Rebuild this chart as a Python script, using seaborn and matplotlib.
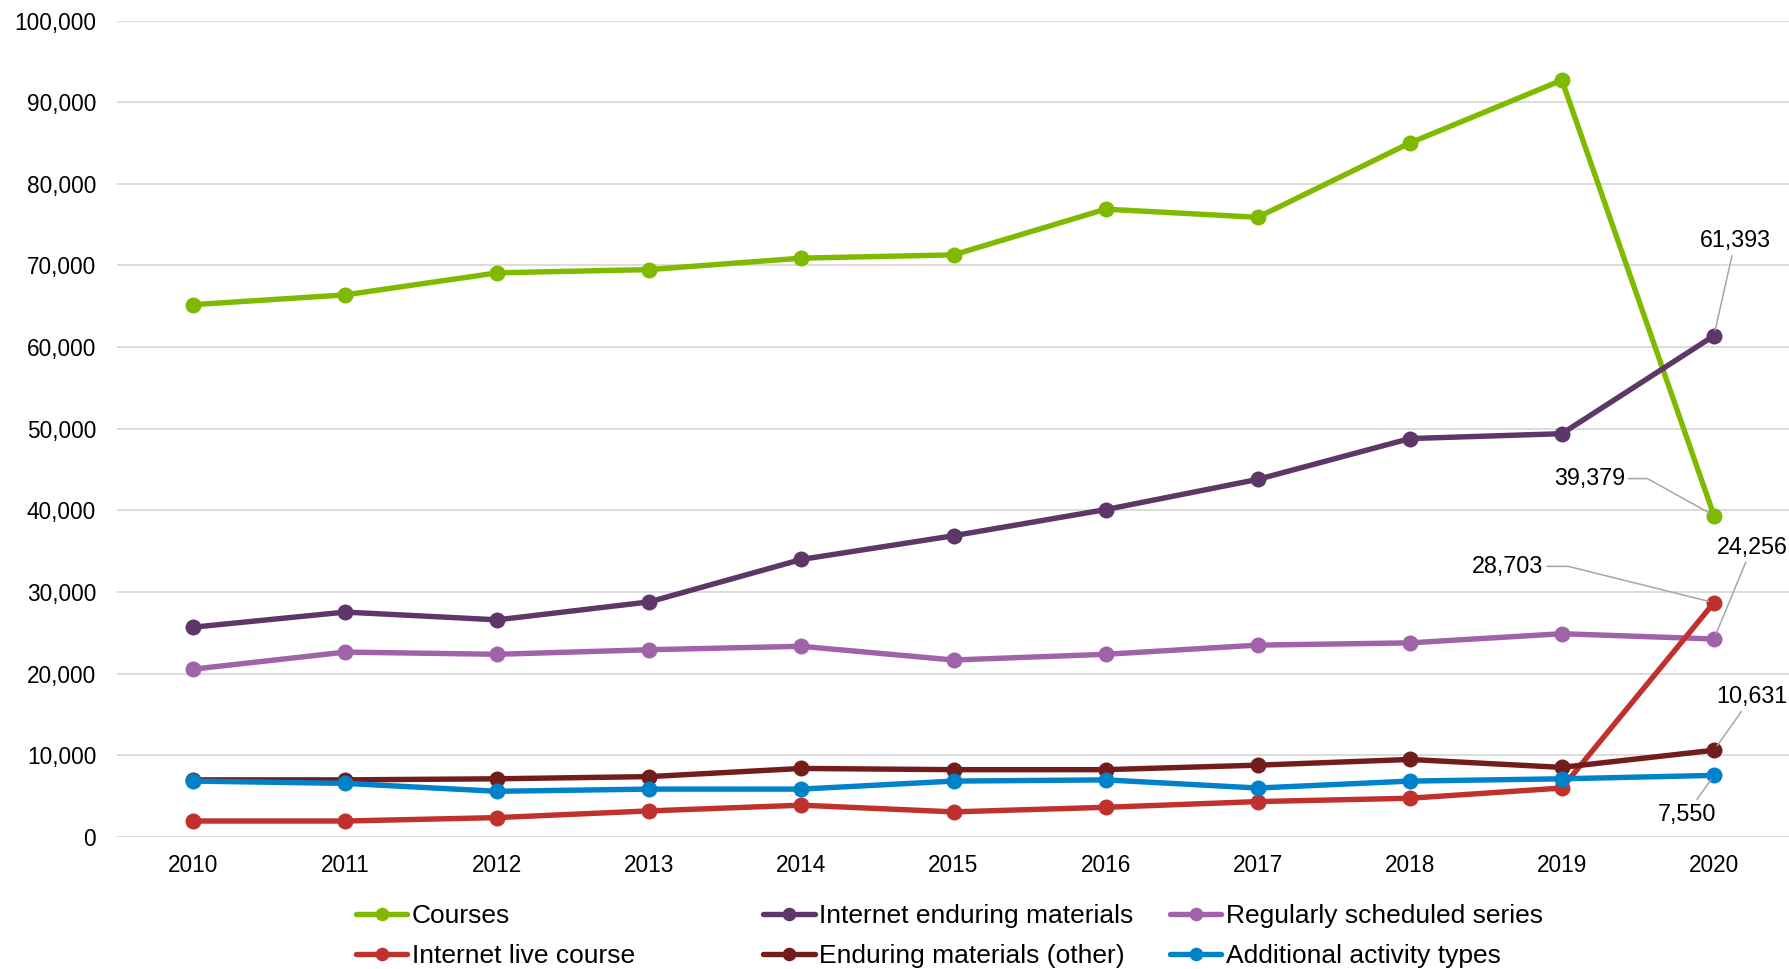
import matplotlib
matplotlib.use("Agg")
import matplotlib.pyplot as plt
import seaborn as sns
import pandas as pd

# values
years = [2010, 2011, 2012, 2013, 2014, 2015, 2016, 2017, 2018, 2019, 2020]
courses = [65200, 66400, 69100, 69500, 70900, 71300, 76900, 75900, 85000, 92700, 39379]
internet_enduring = [25700, 27550, 26600, 28800, 34000, 36900, 40100, 43800, 48800, 49400, 61393]
regular_series = [20560, 22650, 22380, 22940, 23360, 21680, 22380, 23500, 23780, 24900, 24256]
internet_live = [1960, 1960, 2380, 3200, 3900, 3080, 3640, 4340, 4750, 6000, 28703]
enduring_other = [7000, 7000, 7130, 7400, 8400, 8250, 8250, 8800, 9500, 8530, 10631]
additional = [6850, 6570, 5600, 5870, 5870, 6850, 7000, 6000, 6850, 7130, 7550]

series_names = ["Courses", "Internet enduring materials", "Regularly scheduled series",
                "Internet live course", "Enduring materials (other)", "Additional activity types"]
series_values = [courses, internet_enduring, regular_series,
                 internet_live, enduring_other, additional]
colors = ["#7FBA00", "#5E3768", "#A062A8", "#C0302D", "#731C1C", "#0082CA"]

sns.set_theme(style="white")
plt.rcParams["font.family"] = ["Liberation Sans", "DejaVu Sans"]
plt.rcParams["text.color"] = "#000000"

fig = plt.figure(figsize=(17.9, 9.69), dpi=100)
ax = fig.add_axes([0.0654, 0.1362, 0.9346, 0.8426])

for name, vals, col in zip(series_names, series_values, colors):
    df = pd.DataFrame({"year": years, "value": vals})
    sns.lineplot(data=df, x="year", y="value", ax=ax, color=col, label=name,
                 marker="o", markersize=11.5, markeredgewidth=0, linewidth=3.9)

ax.set_xlim(2009.5, 2020.5)
ax.set_ylim(0, 100000)
ax.set_yticks(range(0, 100001, 10000))
ax.set_yticklabels([f"{v:,}" for v in range(0, 100001, 10000)])
ax.set_xticks(years)
ax.set_xticklabels([str(y) for y in years])
ax.tick_params(axis="y", length=0, pad=15, labelsize=16.3, labelcolor="#000000")
ax.tick_params(axis="x", length=0, pad=12, labelsize=16.3, labelcolor="#000000")
ax.set_xlabel("")
ax.set_ylabel("")
ax.grid(axis="y", color="#D9D9D9", linewidth=1.3)
ax.grid(axis="x", visible=False)
for s in ax.spines.values():
    s.set_visible(False)

# data labels for 2020 with leader lines
lead = dict(arrowstyle="-", color="#A6A6A6", lw=1.1, shrinkA=0, shrinkB=4)
lab = dict(fontsize=16.8, color="#000000", va="center")
ax.annotate("61,393", xy=(2020, 61393), xytext=(2020.14, 73000), ha="center",
            arrowprops=lead, **lab)
ax.annotate("39,379", xy=(2020, 39379), xytext=(2019.415, 43900), ha="right",
            arrowprops=dict(lead, relpos=(1, 0.5),
                            connectionstyle="angle,angleA=0,angleB=151,rad=0"), **lab)
ax.annotate("28,703", xy=(2020, 28703), xytext=(2018.88, 33150), ha="right",
            arrowprops=dict(lead, relpos=(1, 0.5),
                            connectionstyle="angle,angleA=0,angleB=166,rad=0"), **lab)
ax.annotate("24,256", xy=(2020, 24256), xytext=(2020.25, 35500), ha="center",
            arrowprops=lead, **lab)
ax.annotate("10,631", xy=(2020, 10631), xytext=(2020.25, 17200), ha="center",
            arrowprops=lead, **lab)
ax.annotate("7,550", xy=(2020, 7550), xytext=(2019.82, 2800), ha="center",
            arrowprops=lead, **lab)

# legend: three columns of two rows
handles, labels = ax.get_legend_handles_labels()
ax.get_legend().remove()
lookup = dict(zip(labels, handles))
columns = [["Courses", "Internet live course"],
           ["Internet enduring materials", "Enduring materials (other)"],
           ["Regularly scheduled series", "Additional activity types"]]
col_x = [0.1989, 0.4263, 0.6536]
for cx, names in zip(col_x, columns):
    leg = fig.legend([lookup[n] for n in names], names, loc="center left",
                     bbox_to_anchor=(cx, 0.034), frameon=False, fontsize=19,
                     handlelength=1.95, handletextpad=0.17, labelspacing=0.6,
                     borderpad=0, borderaxespad=0, markerscale=0.85)

fig.savefig("out.png", dpi=100)
